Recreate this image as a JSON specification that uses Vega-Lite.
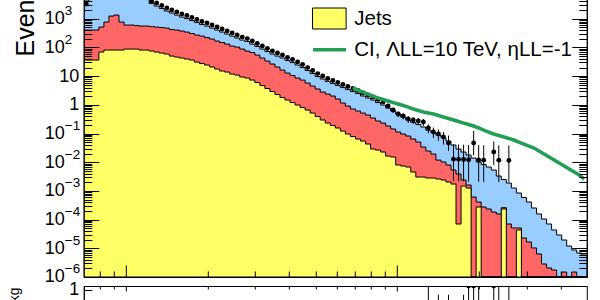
{
  "$schema": "https://vega.github.io/schema/vega-lite/v6.json",
  "background": "white",
  "autosize": {"type": "pad"},
  "padding": {"left": 6.8, "top": -106, "right": 13.5, "bottom": -69.5},
  "spacing": 9,
  "bounds": "flush",
  "datasets": {
    "hist": [
      {"m":70,"tot":4170,"red":404,"jets":36.4},{"m":73.05,"tot":7080,"red":404,"jets":36.4},{"m":76.24,"tot":14100,"red":404,"jets":36.4},{"m":79.56,"tot":35500,"red":514,"jets":69.2},
      {"m":83.03,"tot":100000,"red":767,"jets":81.3},{"m":86.65,"tot":282000,"red":1242,"jets":81.3},{"m":90.43,"tot":398000,"red":1346,"jets":81.3},{"m":94.38,"tot":251000,"red":767,"jets":81.3},
      {"m":98.49,"tot":89100,"red":604,"jets":87.9},{"m":102.8,"tot":35500,"red":604,"jets":87.9},{"m":107.3,"tot":17800,"red":580,"jets":87.9},{"m":111.9,"tot":10500,"red":557,"jets":81.3},
      {"m":116.8,"tot":5500,"red":557,"jets":81.3},{"m":121.9,"tot":3400,"red":535,"jets":75.0},{"m":127.2,"tot":2770,"red":514,"jets":69.2},{"m":132.8,"tot":2270,"red":494,"jets":63.8},
      {"m":138.6,"tot":1855,"red":474,"jets":58.9},{"m":144.6,"tot":1581,"red":421,"jets":50.1},{"m":150.9,"tot":1346,"red":404,"jets":46.3},{"m":157.5,"tot":1146,"red":373,"jets":42.8},
      {"m":164.4,"tot":1016,"red":344,"jets":39.5},{"m":171.5,"tot":865,"red":305,"jets":36.4},{"m":179.0,"tot":738,"red":271,"jets":31.0},{"m":186.8,"tot":628,"red":249,"jets":27.5},
      {"m":195.0,"tot":557,"red":221,"jets":24.4},{"m":203.5,"tot":474,"red":196,"jets":20.8},{"m":212.4,"tot":404,"red":167,"jets":17.7},{"m":221.6,"tot":344,"red":148,"jets":15.1},
      {"m":231.3,"tot":293,"red":131,"jets":13.9},{"m":241.4,"tot":249,"red":112,"jets":11.8},{"m":251.9,"tot":213,"red":103,"jets":10.9},{"m":262.9,"tot":181,"red":87.9,"jets":9.31},
      {"m":274.4,"tot":161,"red":75.0,"jets":8.59},{"m":286.3,"tot":131,"red":66.4,"jets":7.31},{"m":298.8,"tot":108,"red":54.3,"jets":5.98},{"m":311.9,"tot":87.9,"red":42.8,"jets":4.71},
      {"m":325.5,"tot":71.9,"red":33.6,"jets":3.70},{"m":339.6,"tot":58.9,"red":26.4,"jets":2.91},{"m":354.5,"tot":50.1,"red":20.8,"jets":2.29},{"m":369.9,"tot":42.8,"red":16.3,"jets":1.80},
      {"m":386.1,"tot":35.0,"red":12.8,"jets":1.47},{"m":402.9,"tot":29.8,"red":10.5,"jets":1.20},{"m":420.5,"tot":24.4,"red":8.59,"jets":0.984},{"m":438.8,"tot":19.9,"red":7.31,"jets":0.805},
      {"m":458.0,"tot":15.7,"red":5.75,"jets":0.659},{"m":477.9,"tot":12.3,"red":4.52,"jets":0.518},{"m":498.8,"tot":9.68,"red":3.56,"jets":0.391},{"m":520.5,"tot":7.93,"red":2.79,"jets":0.296},
      {"m":543.3,"tot":6.49,"red":2.38,"jets":0.232},{"m":567.0,"tot":5.52,"red":2.03,"jets":0.190},{"m":591.6,"tot":4.71,"red":1.59,"jets":0.156},{"m":617.5,"tot":4.01,"red":1.16,"jets":0.122},
      {"m":644.4,"tot":3.41,"red":0.908,"jets":0.0962},{"m":672.5,"tot":2.91,"red":0.714,"jets":0.0787},{"m":701.9,"tot":2.48,"red":0.608,"jets":0.0644},{"m":732.5,"tot":2.03,"red":0.518,"jets":0.0548},
      {"m":764.5,"tot":1.73,"red":0.441,"jets":0.0431},{"m":797.8,"tot":1.47,"red":0.347,"jets":0.0288},{"m":832.6,"tot":1.20,"red":0.273,"jets":0.0266},{"m":868.9,"tot":0.984,"red":0.232,"jets":0.0227},
      {"m":906.8,"tot":0.774,"red":0.183,"jets":0.0164},{"m":946.3,"tot":0.608,"red":0.144,"jets":0.0152},{"m":987.6,"tot":0.479,"red":0.113,"jets":0.0080},{"m":1030.5,"tot":0.376,"red":0.0962,"jets":0.00738},
      {"m":1075.5,"tot":0.296,"red":0.0819,"jets":0.00681},{"m":1122.4,"tot":0.242,"red":0.0644,"jets":0.00456},{"m":1171.4,"tot":0.206,"red":0.0506,"jets":0.00305},{"m":1222.4,"tot":0.169,"red":0.0339,"jets":0.00305},
      {"m":1275.7,"tot":0.132,"red":0.0246,"jets":0.00282},{"m":1331.4,"tot":0.108,"red":0.0193,"jets":0.00282},{"m":1389.4,"tot":0.0887,"red":0.0119,"jets":0.0026},{"m":1450.1,"tot":0.0726,"red":0.0102,"jets":0.0024},
      {"m":1513.3,"tot":0.0548,"red":0.0080,"jets":0.00204},{"m":1579.2,"tot":0.0397,"red":0.00535,"jets":0.00174},{"m":1648.2,"tot":0.0288,"red":0.00388,"jets":0.0000703},{"m":1720.0,"tot":0.0227,"red":0.0024,"jets":0.00148},
      {"m":1794.9,"tot":0.0178,"red":0.00161,"jets":0.00126},{"m":1873.3,"tot":0.014,"red":0.000614,"jets":1e-9},{"m":1955.0,"tot":0.0102,"red":0.00041,"jets":0.000275},{"m":2040.4,"tot":0.00832,"red":0.000275,"jets":1e-9},
      {"m":2129.2,"tot":0.00681,"red":0.000234,"jets":1e-9},{"m":2222.0,"tot":0.00535,"red":0.000184,"jets":1e-9},{"m":2319.1,"tot":0.0033,"red":0.000157,"jets":1e-9},{"m":2420.1,"tot":0.00249,"red":0.00026,"jets":0.000234},
      {"m":2525.9,"tot":0.00188,"red":0.0000703,"jets":1e-9},{"m":2636.0,"tot":0.00126,"red":0.0000511,"jets":1e-9},{"m":2750.8,"tot":0.000845,"red":0.0000511,"jets":0.0000435},{"m":2870.9,"tot":0.000589,"red":0.0000229,"jets":1e-9},
      {"m":2996.0,"tot":0.00041,"red":0.0000166,"jets":1e-9},{"m":3126.1,"tot":0.000254,"red":0.0000103,"jets":1e-9},{"m":3263.0,"tot":0.000157,"red":0.00000634,"jets":1e-9},{"m":3405.1,"tot":0.000105,"red":0.00000284,"jets":1e-9},
      {"m":3553.9,"tot":0.0000703,"red":0.00000206,"jets":1e-9},{"m":3708.6,"tot":0.0000435,"red":0.00000175,"jets":1e-9},{"m":3870.0,"tot":0.0000291,"red":1e-9,"jets":1e-9},{"m":4039.1,"tot":0.0000195,"red":0.00000149,"jets":1e-9},
      {"m":4215.0,"tot":0.000012,"red":1e-9,"jets":1e-9},{"m":4398.8,"tot":0.00000873,"red":0.00000149,"jets":1e-9},{"m":4590.3,"tot":0.00000686,"red":1e-9,"jets":1e-9},{"m":4790.1,"tot":0.00000585,"red":1e-9,"jets":1e-9},
      {"m":5000,"tot":0.00000585,"red":1e-9,"jets":1e-9}
    ],
    "obs": [
      {"m":71.5,"v":3250,"lo":3250,"hi":3250},{"m":74.6,"v":6800,"lo":6800,"hi":6800},{"m":77.9,"v":13500,"lo":13500,"hi":13500},{"m":81.3,"v":34000,"lo":34000,"hi":34000},
      {"m":84.8,"v":97000,"lo":97000,"hi":97000},{"m":88.5,"v":275000,"lo":275000,"hi":275000},{"m":92.4,"v":390000,"lo":390000,"hi":390000},{"m":96.4,"v":245000,"lo":245000,"hi":245000},
      {"m":100.6,"v":86000,"lo":86000,"hi":86000},{"m":105.0,"v":34500,"lo":34500,"hi":34500},{"m":109.6,"v":17200,"lo":17200,"hi":17200},{"m":114.3,"v":10200,"lo":10200,"hi":10200},
      {"m":119.3,"v":6000,"lo":6000,"hi":6000},{"m":124.5,"v":4000,"lo":4000,"hi":4000},{"m":129.9,"v":3525,"lo":3525,"hi":3525},{"m":135.7,"v":2884,"lo":2884,"hi":2884},
      {"m":141.6,"v":2360,"lo":2360,"hi":2360},{"m":147.7,"v":2010,"lo":2010,"hi":2010},{"m":154.2,"v":1714,"lo":1714,"hi":1714},{"m":160.9,"v":1459,"lo":1459,"hi":1459},
      {"m":167.9,"v":1294,"lo":1294,"hi":1294},{"m":175.2,"v":1102,"lo":1102,"hi":1102},{"m":182.9,"v":938,"lo":938,"hi":938},{"m":190.8,"v":800,"lo":800,"hi":800},
      {"m":199.2,"v":708,"lo":708,"hi":708},{"m":207.9,"v":604,"lo":604,"hi":604},{"m":217.0,"v":514,"lo":514,"hi":514},{"m":226.4,"v":438,"lo":438,"hi":438},
      {"m":236.3,"v":373,"lo":373,"hi":373},{"m":246.6,"v":318,"lo":318,"hi":318},{"m":257.3,"v":271,"lo":271,"hi":271},{"m":268.6,"v":230,"lo":230,"hi":230},
      {"m":280.3,"v":204,"lo":204,"hi":204},{"m":292.5,"v":167,"lo":167,"hi":167},{"m":305.2,"v":137,"lo":137,"hi":137},{"m":318.6,"v":112,"lo":112,"hi":112},
      {"m":332.5,"v":91.6,"lo":91.6,"hi":91.6},{"m":346.9,"v":75.0,"lo":75.0,"hi":75.0},{"m":362.2,"v":63.8,"lo":63.8,"hi":63.8},{"m":377.9,"v":54.3,"lo":54.3,"hi":54.3},
      {"m":394.4,"v":44.5,"lo":44.5,"hi":44.5},{"m":411.6,"v":37.9,"lo":37.9,"hi":37.9},{"m":429.6,"v":31.0,"lo":31.0,"hi":31.0},{"m":448.3,"v":25.4,"lo":25.4,"hi":25.4},
      {"m":467.9,"v":19.9,"lo":19.9,"hi":19.9},{"m":488.2,"v":15.7,"lo":15.7,"hi":15.7},{"m":509.6,"v":12.3,"lo":12.3,"hi":12.3},{"m":531.7,"v":10.1,"lo":10.1,"hi":10.1},
      {"m":555.0,"v":8.26,"lo":8.26,"hi":8.26},{"m":579.2,"v":7.03,"lo":7.03,"hi":7.03},{"m":604.4,"v":5.98,"lo":5.98,"hi":5.98},{"m":630.8,"v":5.09,"lo":5.09,"hi":5.09},
      {"m":658.3,"v":4.35,"lo":4.35,"hi":4.35},{"m":687.0,"v":3.70,"lo":3.70,"hi":3.70},{"m":717.1,"v":3.15,"lo":3.15,"hi":3.15},{"m":748.3,"v":2.58,"lo":2.58,"hi":2.58},
      {"m":781.0,"v":2.20,"lo":2.20,"hi":2.20},{"m":815.0,"v":1.87,"lo":1.87,"hi":1.87},{"m":850.6,"v":1.53,"lo":1.32,"hi":1.75},{"m":887.7,"v":1.25,"lo":1.07,"hi":1.44},
      {"m":926.4,"v":0.908,"lo":0.757,"hi":1.06},{"m":966.7,"v":0.659,"lo":0.532,"hi":0.786},{"m":1008.9,"v":0.479,"lo":0.373,"hi":0.585},{"m":1052.8,"v":0.407,"lo":0.312,"hi":0.502},
      {"m":1098.7,"v":0.320,"lo":0.237,"hi":0.403},{"m":1146.6,"v":0.296,"lo":0.218,"hi":0.374},{"m":1196.7,"v":0.273,"lo":0.200,"hi":0.346},{"m":1248.8,"v":0.252,"lo":0.183,"hi":0.321},
      {"m":1303.2,"v":0.156,"lo":0.103,"hi":0.209},{"m":1360.2,"v":0.113,"lo":0.069,"hi":0.161},{"m":1419.4,"v":0.0962,"lo":0.056,"hi":0.140},{"m":1481.4,"v":0.0755,"lo":0.041,"hi":0.114},
      {"m":1546.0,"v":0.0467,"lo":0.025,"hi":0.085},{"m":1613.3,"v":0.0128,"lo":0.00222,"hi":0.0422},{"m":1683.8,"v":0.0126,"lo":0.00218,"hi":0.0416},{"m":1757.2,"v":0.0124,"lo":0.00215,"hi":0.0409},
      {"m":1833.7,"v":0.0122,"lo":0.00211,"hi":0.0403},{"m":1913.7,"v":0.0467,"lo":0.0173,"hi":0.123},{"m":1997.2,"v":0.0120,"lo":0.00208,"hi":0.0396},{"m":2084.5,"v":0.0118,"lo":0.00204,"hi":0.0389},
      {"m":2270.0,"v":0.0227,"lo":0.00806,"hi":0.0527},{"m":2369.2,"v":0.0118,"lo":0.00204,"hi":0.0389},{"m":2580.5,"v":0.0116,"lo":0.00201,"hi":0.0383}
    ],
    "ci": [
      {"m":687.0,"v":4.01},{"m":717.1,"v":3.28},{"m":748.3,"v":2.79},{"m":781.0,"v":2.38},{"m":815.0,"v":2.03},{"m":850.6,"v":1.73},{"m":887.7,"v":1.53},{"m":926.4,"v":1.36},
      {"m":966.7,"v":1.20},{"m":1008.9,"v":1.07},{"m":1052.8,"v":0.946},{"m":1098.7,"v":0.839},{"m":1146.6,"v":0.714},{"m":1196.7,"v":0.634},{"m":1248.8,"v":0.561},{"m":1303.2,"v":0.518},
      {"m":1360.2,"v":0.479},{"m":1419.4,"v":0.424},{"m":1481.4,"v":0.376},{"m":1546.0,"v":0.333},{"m":1613.3,"v":0.296},{"m":1683.8,"v":0.262},{"m":1757.2,"v":0.232},{"m":1833.7,"v":0.206},
      {"m":1913.7,"v":0.183},{"m":1997.2,"v":0.156},{"m":2084.5,"v":0.132},{"m":2175.2,"v":0.113},{"m":2270.0,"v":0.0962},{"m":2369.2,"v":0.0853},{"m":2472.4,"v":0.0755},{"m":2580.5,"v":0.067},
      {"m":2692.9,"v":0.0594},{"m":2810.2,"v":0.0506},{"m":2932.9,"v":0.0431},{"m":3060.7,"v":0.0367},{"m":3193.6,"v":0.0313},{"m":3333.5,"v":0.0246},{"m":3478.7,"v":0.0193},{"m":3630.7,"v":0.0152},
      {"m":3788.7,"v":0.0119},{"m":3953.6,"v":0.00938},{"m":4126.3,"v":0.00738},{"m":4306.0,"v":0.0058},{"m":4493.8,"v":0.00456},{"m":4689.5,"v":0.00358},{"m":4893.6,"v":0.0026}
    ],
    "ratio": [
      {"m":1303.2,"lo":-0.3,"hi":2,"r":0.18},{"m":1419.4,"lo":-0.2,"hi":0.85,"r":0.08},{"m":1546.0,"lo":-0.4,"hi":0.85,"r":-0.15},{"m":1757.2,"lo":-0.9,"hi":0.85,"r":-0.45},
      {"m":1833.7,"lo":-0.3,"hi":5,"r":1.9},{"m":1913.7,"lo":0.2,"hi":8,"r":2.6},{"m":1997.2,"lo":-0.8,"hi":3,"r":0.2},{"m":2270.0,"lo":0.5,"hi":9,"r":3.2},
      {"m":2369.2,"lo":-0.8,"hi":3,"r":0.4},{"m":2580.5,"lo":-0.8,"hi":5,"r":0.5}
    ]
  },
  "resolve": {"scale": {"x": "shared"}, "legend": {"fill": "independent", "stroke": "independent"}},
  "vconcat": [
    {
      "width": 503,
      "height": 373,
      "resolve": {"axis": {"x": "independent", "y": "independent"}},
      "layer": [
        {
          "data": {"name": "hist"},
          "mark": {"type": "area", "interpolate": "step-after", "fill": "#99ccff", "stroke": "black", "strokeWidth": 1, "clip": true},
          "encoding": {
            "x": {"field": "m", "type": "quantitative", "scale": {"type": "log", "domain": [70, 5000], "nice": false},
                  "axis": {"orient": "bottom", "values": [100, 1000], "tickSize": -12, "labels": false, "title": null, "domain": true, "zindex": 2}},
            "y": {"field": "tot", "type": "quantitative", "scale": {"type": "log", "domain": [1e-6, 1e7], "nice": false, "clamp": true},
                  "axis": {"orient": "left", "values": [1e-6,1e-5,1e-4,0.001,0.01,0.1,1,10,100,1000,10000,100000,1000000,10000000],
                           "tickSize": -15, "labelPadding": 20, "labelFontSize": 18, "labelOverlap": false, "domain": true, "zindex": 2,
                           "labelExpr": "datum.value > 0.5 && datum.value < 1.5 ? '1' : (datum.value > 5 && datum.value < 15 ? '10' : '')",
                           "title": "Events / GeV", "titleFontSize": 25, "titleFontWeight": "normal", "titleAngle": 270, "titleX": -50, "titleY": 152, "titleAlign": "left", "titleBaseline": "alphabetic"}},
            "y2": {"datum": 1e-9}
          }
        },
        {
          "data": {"name": "hist"},
          "mark": {"type": "area", "interpolate": "step-after", "fill": "#ff6666", "stroke": "black", "strokeWidth": 1, "clip": true},
          "encoding": {
            "x": {"field": "m", "type": "quantitative",
                  "axis": {"orient": "bottom", "values": [80, 90, 200, 300, 400, 500, 600, 700, 800, 900, 2000, 3000, 4000], "tickSize": -6, "labels": false, "title": null, "domain": false, "zindex": 2}},
            "y": {"field": "red", "type": "quantitative",
                  "axis": {"orient": "left", "values": [2e-6,3e-6,4e-6,5e-6,6e-6,7e-6,8e-6,9e-6,2e-5,3e-5,4e-5,5e-5,6e-5,7e-5,8e-5,9e-5,2e-4,3e-4,4e-4,5e-4,6e-4,7e-4,8e-4,9e-4,0.002,0.003,0.004,0.005,0.006,0.007,0.008,0.009,0.02,0.03,0.04,0.05,0.06,0.07,0.08,0.09,0.2,0.3,0.4,0.5,0.6,0.7,0.8,0.9,2,3,4,5,6,7,8,9,20,30,40,50,60,70,80,90,200,300,400,500,600,700,800,900,2000,3000,4000,5000,6000,7000,8000,9000,20000,30000,40000,50000,60000,70000,80000,90000,200000,300000,400000,500000,600000,700000,800000,900000,2000000,3000000,4000000,5000000,6000000,7000000,8000000,9000000],
                           "tickSize": -8, "labels": false, "title": null, "domain": false, "zindex": 2}},
            "y2": {"datum": 1e-9}
          }
        },
        {
          "data": {"name": "hist"},
          "mark": {"type": "area", "interpolate": "step-after", "stroke": "black", "strokeWidth": 1, "clip": true},
          "encoding": {
            "x": {"field": "m", "type": "quantitative", "axis": null},
            "y": {"field": "jets", "type": "quantitative",
                  "axis": {"orient": "right", "values": [1e-6,1e-5,1e-4,0.001,0.01,0.1,1,10,100,1000,10000,100000,1000000,10000000], "tickSize": -15, "labels": false, "title": null, "domain": true, "zindex": 2}},
            "y2": {"datum": 1e-9},
            "fill": {"datum": "Jets", "type": "nominal", "scale": {"domain": ["Jets"], "range": ["#ffff66"]},
                     "legend": {"orient": "none", "legendX": 234.5, "legendY": 103.5, "title": null, "padding": 0,
                                "symbolType": "M-1.6,-1H1.6V1H-1.6Z", "symbolSize": 441, "symbolStrokeColor": "black", "symbolStrokeWidth": 1, "symbolFillColor": "#ffff66",
                                "labelFontSize": 20.5, "labelOffset": 14, "labelColor": "black", "labelFont": "Liberation Sans", "labelLimit": 400}}
          }
        },
        {
          "data": {"name": "obs"},
          "mark": {"type": "rule", "color": "black", "strokeWidth": 1, "clip": true},
          "encoding": {
            "x": {"field": "m", "type": "quantitative", "axis": null},
            "y": {"field": "lo", "type": "quantitative",
                  "axis": {"orient": "right", "values": [2e-6,3e-6,4e-6,5e-6,6e-6,7e-6,8e-6,9e-6,2e-5,3e-5,4e-5,5e-5,6e-5,7e-5,8e-5,9e-5,2e-4,3e-4,4e-4,5e-4,6e-4,7e-4,8e-4,9e-4,0.002,0.003,0.004,0.005,0.006,0.007,0.008,0.009,0.02,0.03,0.04,0.05,0.06,0.07,0.08,0.09,0.2,0.3,0.4,0.5,0.6,0.7,0.8,0.9,2,3,4,5,6,7,8,9,20,30,40,50,60,70,80,90,200,300,400,500,600,700,800,900,2000,3000,4000,5000,6000,7000,8000,9000,20000,30000,40000,50000,60000,70000,80000,90000,200000,300000,400000,500000,600000,700000,800000,900000,2000000,3000000,4000000,5000000,6000000,7000000,8000000,9000000],
                           "tickSize": -8, "labels": false, "title": null, "domain": false, "zindex": 2}},
            "y2": {"field": "hi"}
          }
        },
        {
          "data": {"name": "obs"},
          "mark": {"type": "circle", "size": 24, "color": "black", "opacity": 1, "clip": true},
          "encoding": {
            "x": {"field": "m", "type": "quantitative", "axis": null},
            "y": {"field": "v", "type": "quantitative",
                  "axis": {"orient": "left", "values": [1e-6,1e-5,1e-4,0.001,0.01,0.1,100,1000], "ticks": false, "domain": false, "labelPadding": 19.5, "labelFontSize": 18, "labelAlign": "right", "labelOverlap": false, "zindex": 2, "title": null,
                           "labelExpr": "'10'"}}
          }
        },
        {
          "data": {"name": "ci"},
          "mark": {"type": "line", "strokeWidth": 3.5, "clip": true},
          "encoding": {
            "x": {"field": "m", "type": "quantitative", "axis": null},
            "y": {"field": "v", "type": "quantitative",
                  "axis": {"orient": "left", "values": [1e-6,1e-5,1e-4,0.001,0.01,0.1,100,1000], "ticks": false, "domain": false, "labelPadding": 19.5, "labelFontSize": 13.5, "labelAlign": "left", "labelOffset": -8, "labelOverlap": false, "zindex": 2, "title": null,
                           "labelExpr": "datum.value > 500 ? '3' : (datum.value > 50 ? '2' : '−' + abs(round(log(datum.value)/LN10)))"}},
            "stroke": {"datum": "CI, ΛLL=10 TeV, ηLL=-1", "type": "nominal", "scale": {"domain": ["CI, ΛLL=10 TeV, ηLL=-1"], "range": ["#1f9e54"]},
                       "legend": {"orient": "none", "legendX": 227.25, "legendY": 127.25, "title": null, "padding": 0,
                                  "symbolType": "stroke", "symbolSize": 1089, "symbolStrokeWidth": 3.5,
                                  "labelFontSize": 20.5, "labelOffset": 6.25, "labelColor": "black", "labelFont": "Liberation Sans", "labelLimit": 400}}
          }
        }
      ]
    },
    {
      "width": 503,
      "height": 84,
      "resolve": {"axis": {"x": "independent", "y": "independent"}},
      "layer": [
        {
          "data": {"name": "ratio"},
          "mark": {"type": "rule", "color": "black", "strokeWidth": 1, "clip": true},
          "encoding": {
            "x": {"field": "m", "type": "quantitative", "scale": {"type": "log", "domain": [70, 5000], "nice": false},
                  "axis": {"orient": "top", "values": [100, 1000], "tickSize": -5, "labels": false, "title": null, "domain": true, "zindex": 2}},
            "y": {"field": "lo", "type": "quantitative", "scale": {"domain": [-1.5, 1.125], "nice": false, "zero": false, "clamp": true},
                  "axis": {"orient": "left", "values": [-1, -0.5, 0, 0.5, 1], "format": "~g", "tickSize": -8, "labelPadding": 13, "labelFontSize": 18, "domain": true, "zindex": 2,
                           "title": "(Data-Bkg)/Bkg", "titleFontSize": 14, "titleFontWeight": "normal", "titleAngle": 270, "titleX": -65, "titleY": 1, "titleAlign": "right", "titleBaseline": "alphabetic"}},
            "y2": {"field": "hi"}
          }
        },
        {
          "data": {"name": "ratio"},
          "mark": {"type": "circle", "size": 24, "color": "black", "opacity": 1, "clip": true},
          "encoding": {
            "x": {"field": "m", "type": "quantitative",
                  "axis": {"orient": "top", "values": [80, 90, 200, 300, 400, 500, 600, 700, 800, 900, 2000, 3000, 4000], "tickSize": -3, "labels": false, "title": null, "domain": false, "zindex": 2}},
            "y": {"field": "r", "type": "quantitative", "axis": null}
          }
        }
      ]
    }
  ],
  "config": {
    "font": "Liberation Sans",
    "view": {"stroke": "black", "strokeWidth": 1},
    "axis": {"grid": false, "tickColor": "black", "tickWidth": 1, "domainColor": "black", "domainWidth": 1, "labelColor": "black", "titleColor": "black", "labelFont": "Liberation Sans", "titleFont": "Liberation Sans"},
    "legend": {"labelFont": "Liberation Sans"}
  }
}
